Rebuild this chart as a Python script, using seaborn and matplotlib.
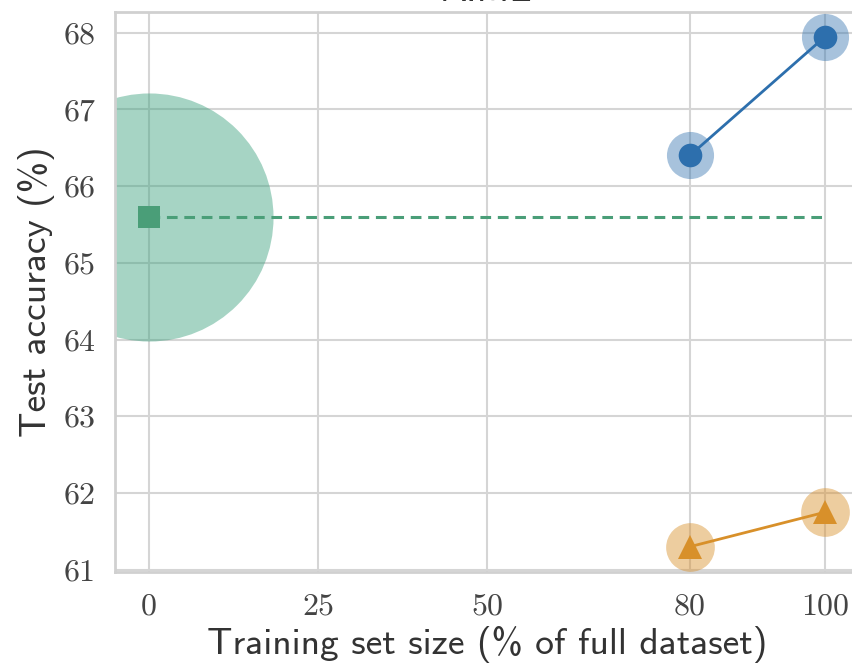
import numpy as np
import matplotlib
matplotlib.use("Agg")
import matplotlib.pyplot as plt
import pandas as pd
import seaborn as sns

# data
sizes = [80, 100]
acc_blue = [66.4, 67.95]
acc_orange = [61.3, 61.75]
baseline_x = [0, 100]
baseline_acc = 65.6

xticks = [0, 25, 50, 80, 100]
yticks = [61, 62, 63, 64, 65, 66, 67, 68]

blue = '#2d6fad'
orange = '#d8902a'
green = '#4a9e78'
green_light = '#3aa07d'

sns.set_theme(style='whitegrid')
plt.rcParams['axes.edgecolor'] = '#d0d0d0'
plt.rcParams['grid.color'] = '#d5d5d5'

fig = plt.figure(figsize=(8.53, 6.66), dpi=100)
ax = fig.add_axes([115/853, 1-572/666, 744/853, 560/666])

df_blue = pd.DataFrame({'size': sizes, 'acc': acc_blue})
df_orange = pd.DataFrame({'size': sizes, 'acc': acc_orange})
df_green = pd.DataFrame({'size': [0], 'acc': [baseline_acc]})

# big halo for the baseline
sns.scatterplot(data=df_green, x='size', y='acc', s=31900, color=green_light,
                alpha=0.45, linewidth=0, ax=ax, zorder=2)
ax.plot(baseline_x, [baseline_acc]*2, ls=(0, (3.5, 2.2)), color=green, lw=2.2, zorder=3)
sns.scatterplot(data=df_green, x='size', y='acc', marker='s', s=260, color=green,
                linewidth=0, ax=ax, zorder=4)

# halos
sns.scatterplot(data=df_blue, x='size', y='acc', s=1150, color=blue, alpha=0.42,
                linewidth=0, ax=ax, zorder=3)
sns.scatterplot(data=df_orange, x='size', y='acc', s=1230, color=orange, alpha=0.45,
                linewidth=0, ax=ax, zorder=3)

# lines with markers
sns.lineplot(data=df_blue, x='size', y='acc', color=blue, lw=2, marker='o',
             markersize=17, markeredgewidth=0, ax=ax, zorder=5)
sns.lineplot(data=df_orange, x='size', y='acc', color=orange, lw=2, marker='^',
             markersize=17, markeredgewidth=0, ax=ax, zorder=5)

ax.set_xlim(-5, 105)
ax.set_ylim(60.97, 68.27)
ax.set_xticks(xticks)
ax.set_yticks(yticks)
ax.set_xticklabels([str(t) for t in xticks], fontfamily='cmr10', fontsize=23, color='#444444')
ax.set_yticklabels([str(t) for t in yticks], fontfamily='cmr10', fontsize=23, color='#444444')
ax.tick_params(axis='x', pad=9)
ax.tick_params(axis='y', pad=8)
ax.grid(True, lw=1.5)
for sp in ax.spines.values():
    sp.set_linewidth(2)

ax.set_xlabel('Training set size (% of full dataset)', fontfamily='cmss10', fontsize=27,
              color='#333333', labelpad=4)
ax.set_ylabel('Test accuracy (%)', fontfamily='cmss10', fontsize=27, color='#333333', labelpad=6)
# title is cropped at the top edge, like in the reference
ax.set_title('AIME', fontfamily='cmss10', fontsize=27, color='#333333', pad=8)

fig.savefig('out.png', dpi=100)
